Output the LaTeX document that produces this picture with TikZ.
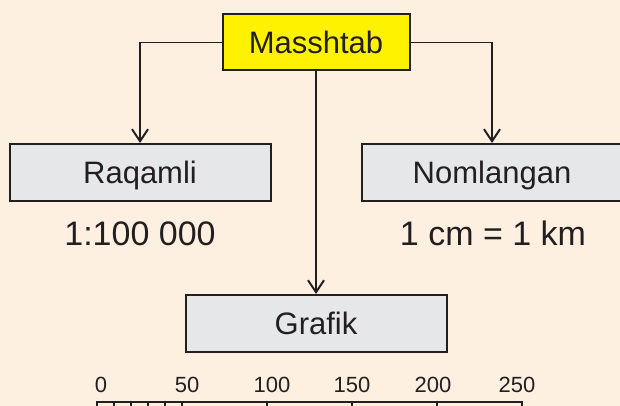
\documentclass[tikz,border=0pt]{standalone}
\usepackage{fontspec}
\setmainfont{Liberation Sans}
\usetikzlibrary{arrows.meta}
\definecolor{paper}{HTML}{FDF0E1}
\definecolor{ink}{HTML}{231F20}
\definecolor{gold}{HTML}{FFF200}
\definecolor{pale}{HTML}{E6E7E9}
\begin{document}
\begin{tikzpicture}[x=1pt,y=-1pt,>={Straight Barb[length=12pt,width=16pt,line width=2pt]},box/.style={draw=ink, line width=2pt, fill=pale, inner sep=0pt, minimum width=261pt, minimum height=57pt, text=ink, font=\fontsize{31}{31}\selectfont, text height=22pt, text depth=0pt},root/.style={box, fill=gold, minimum width=187pt, minimum height=56pt},link/.style={->, draw=ink, line width=1.9pt},value/.style={anchor=base, inner sep=0pt, text=ink, font=\fontsize{34}{34}\selectfont},tick/.style={anchor=base, inner sep=0pt, text=ink, font=\fontsize{22}{22}\selectfont},bar/.style={draw=ink, line width=1.7pt}]
\useasboundingbox (0,0) rectangle (620,406);
\fill[paper] (0,0) rectangle (620,406);
\clip (0,0) rectangle (620,406);
\node[root] (mass) at (316,42.5) {Masshtab};
\node[box] (raq) at (140,172.5) {Raqamli};
\node[box] (nom) at (492,172.5) {Nomlangan};
\node[box] (graf) at (316,323.5) {Grafik};
\draw[link] (mass.west) -| (raq.north);
\draw[link] (mass.east) -| (nom.north);
\draw[link] (mass.south) -- (graf.north);
\node[value] (raqval) at (140,245) {1:100 000};
\node[value] (nomval) at (493,245) {1 cm = 1 km};
\foreach \v/\p in {0/101,50/187,100/272,150/352,200/433,250/517}
  \node[tick] (t\v) at (\p,392) {\v};
\foreach \a/\b in {0/10,20/30,40/50,100/150,200/250}
  \draw[bar] (97+1.7*\a,402) rectangle (97+1.7*\b,420);
\draw[bar] (97,402) -- (522,402);
\end{tikzpicture}
\end{document}
